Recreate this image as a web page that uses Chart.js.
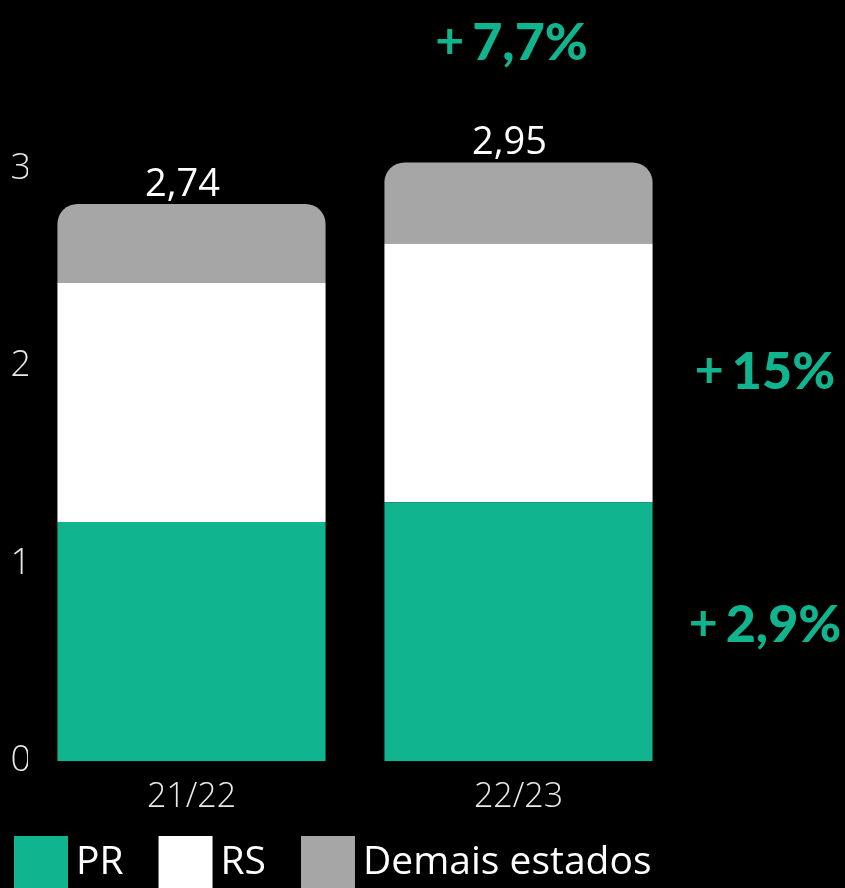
<!DOCTYPE html>
<html>
<head>
<meta charset="utf-8">
<script src="https://cdn.jsdelivr.net/npm/chart.js@4.4.1/dist/chart.umd.min.js"></script>
<style>
  html, body { margin: 0; padding: 0; background: #000; }
  #wrap { width: 845px; height: 888px; position: relative; }
</style>
</head>
<body>
<div id="wrap"><canvas id="safraChart"></canvas></div>
<script>
const categorias = ['21/22', '22/23'];
const seriesNomes = ['PR', 'RS', 'Demais estados'];
const valoresPR = [1.21, 1.31];
const valoresRS = [1.21, 1.31];
const valoresDemais = [0.40, 0.41];
const totais = ['2,74', '2,95'];
// variação 22/23 vs 21/22: PR, RS, total
const variacoes = ['2,9%', '15%', '7,7%'];
const ticksY = [0, 1, 2, 3];

const verde = 'rgb(16, 180, 143)';
const cinza = 'rgb(166, 166, 166)';

const fundoPreto = {
    id: 'fundoPreto',
    beforeDraw(chart) {
        const ctx = chart.ctx;
        ctx.save();
        ctx.fillStyle = '#000';
        ctx.fillRect(0, 0, chart.width, chart.height);
        ctx.restore();
    }
};

function desenhaVariacao(ctx, texto, cx, baseline) {
    ctx.save();
    ctx.fillStyle = verde;
    ctx.textBaseline = 'alphabetic';
    ctx.textAlign = 'left';
    const fontMais = '700 50px Lato';
    const fontNum = '900 52px Lato';
    ctx.font = fontMais;
    const wMais = ctx.measureText('+').width;
    ctx.font = fontNum;
    const wNum = ctx.measureText(texto).width;
    const gap = 8;
    let x = cx - (wMais + gap + wNum) / 2;
    ctx.font = fontMais;
    ctx.fillText('+', x, baseline - 2);
    ctx.font = fontNum;
    ctx.fillText(texto, x + wMais + gap, baseline);
    ctx.restore();
}

const rotulos = {
    id: 'rotulos',
    afterDatasetsDraw(chart) {
        const ctx = chart.ctx;
        const area = chart.chartArea;
        const topo = chart.getDatasetMeta(2).data;
        // totais acima das barras
        ctx.save();
        ctx.fillStyle = '#fff';
        ctx.font = '400 38px "Open Sans"';
        ctx.textAlign = 'center';
        ctx.textBaseline = 'alphabetic';
        topo.forEach((bar, i) => {
            ctx.fillText(totais[i], bar.x - 9, bar.y - 8);
        });
        ctx.restore();

        // variações
        const xDir = area.right + 83;
        const pr = chart.getDatasetMeta(0).data[1];
        const rs = chart.getDatasetMeta(1).data[1];
        desenhaVariacao(ctx, variacoes[0], xDir, (pr.y + pr.base) / 2 + 10);
        desenhaVariacao(ctx, variacoes[1], xDir, (rs.y + rs.base) / 2 + 16);
        desenhaVariacao(ctx, variacoes[2], topo[1].x - 7, 60);

        // legenda
        ctx.save();
        ctx.font = '400 39px "Open Sans"';
        ctx.textBaseline = 'middle';
        ctx.textAlign = 'left';
        let x = 14;
        const yBox = 836;
        chart.data.datasets.forEach(ds => {
            ctx.fillStyle = ds.backgroundColor;
            ctx.fillRect(x, yBox, 54, 54);
            x += 54 + 8;
            ctx.fillStyle = '#fff';
            ctx.fillText(ds.label, x, yBox + 27);
            x += ctx.measureText(ds.label).width + 35;
        });
        ctx.restore();
    }
};

const ctx = document.getElementById('safraChart').getContext('2d');
new Chart(ctx, {
    type: 'bar',
    data: {
        labels: categorias,
        datasets: [
            {
                label: seriesNomes[0],
                data: valoresPR,
                backgroundColor: verde,
                borderWidth: 0
            },
            {
                label: seriesNomes[1],
                data: valoresRS,
                backgroundColor: '#ffffff',
                borderWidth: 0
            },
            {
                label: seriesNomes[2],
                data: valoresDemais,
                backgroundColor: cinza,
                borderWidth: 0,
                borderRadius: { topLeft: 20, topRight: 20, bottomLeft: 0, bottomRight: 0 },
                borderSkipped: false
            }
        ]
    },
    options: {
        responsive: true,
        maintainAspectRatio: false,
        animation: false,
        categoryPercentage: 0.82,
        barPercentage: 1,
        layout: {
            padding: { top: 119, right: 163, bottom: 54, left: 0 }
        },
        plugins: {
            legend: { display: false },
            tooltip: { enabled: false }
        },
        scales: {
            x: {
                stacked: true,
                grid: { display: false, drawTicks: false },
                border: { display: false },
                ticks: {
                    color: '#e8e8e8',
                    font: { family: '"Open Sans"', size: 34, weight: '300' },
                    padding: 16
                }
            },
            y: {
                stacked: true,
                min: 0,
                max: 3.25,
                grid: { display: false, drawTicks: false },
                border: { display: false },
                afterFit: function(scale) { scale.width = 28; },
                afterBuildTicks: function(scale) {
                    scale.ticks = ticksY.map(v => ({ value: v }));
                },
                ticks: {
                    color: '#e8e8e8',
                    font: { family: '"Open Sans"', size: 36, weight: '300' },
                    padding: -3,
                    callback: function(value) { return value; }
                }
            }
        }
    },
    plugins: [fundoPreto, rotulos]
});
</script>
</body>
</html>
